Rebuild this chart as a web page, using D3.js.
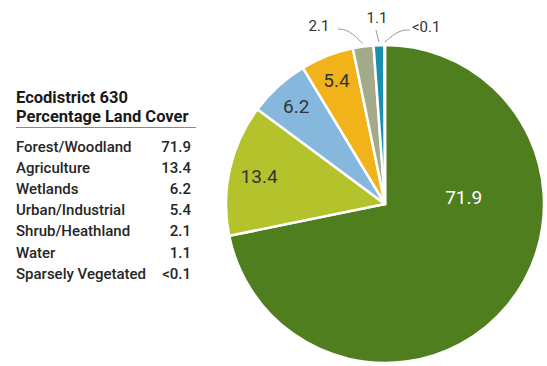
<!DOCTYPE html>
<html>
<head>
<meta charset="utf-8">
<script src="https://cdn.jsdelivr.net/npm/d3@7/dist/d3.min.js"></script>
<style>
  html, body { margin: 0; padding: 0; background: #ffffff; }
  svg { display: block; font-family: Roboto, "Liberation Sans Narrow", sans-serif; }
</style>
</head>
<body>
<svg id="chart" width="547" height="366"></svg>
<script>
// Land cover classes for Ecodistrict 630, clockwise from 12 o'clock
const categories = ["Forest/Woodland", "Agriculture", "Wetlands", "Urban/Industrial",
                    "Shrub/Heathland", "Water", "Sparsely Vegetated"];
const values = [71.9, 13.4, 6.2, 5.4, 2.1, 1.1, 0.05];
const valueLabels = ["71.9", "13.4", "6.2", "5.4", "2.1", "1.1", "<0.1"];
const colors = ["#4f7e1e", "#b4c22b", "#86b8de", "#f2b31a", "#a3aa8a", "#1a8fb0", "#6a8a3a"];

const title = ["Ecodistrict 630", "Percentage Land Cover"];

const svg = d3.select("#chart");
const textColor = "#262626";

// ---- Pie ----
const cx = 385, cy = 204, R = 159;
const pie = d3.pie().sort(null).value(d => d);
const arcs = pie(values);
const arc = d3.arc().innerRadius(0).outerRadius(R);

const g = svg.append("g").attr("transform", `translate(${cx},${cy})`);

g.selectAll("path.slice")
  .data(arcs)
  .join("path")
  .attr("class", "slice")
  .attr("d", arc)
  .attr("fill", (d, i) => colors[i])
  .attr("stroke", "#ffffff")
  .attr("stroke-width", 2.5)
  .attr("stroke-linejoin", "round");

// Inside labels for the larger slices
const inside = [
  { i: 0, r: 79, angle: 85 * Math.PI / 180, fill: "#ffffff" },
  { i: 1, r: 129 },
  { i: 2, r: 132 },
  { i: 3, r: 133 }
];
inside.forEach(p => {
  const a = arcs[p.i];
  const ang = p.angle !== undefined ? p.angle : (a.startAngle + a.endAngle) / 2;
  g.append("text")
    .attr("x", p.r * Math.sin(ang))
    .attr("y", -p.r * Math.cos(ang))
    .attr("dy", "0.36em")
    .attr("text-anchor", "middle")
    .attr("font-size", 19)
    .attr("fill", p.fill || "#333333")
    .text(valueLabels[p.i]);
});

// Outside labels with leader lines for the thin slices
const outside = [
  { i: 4, lx: -66, ly: -173, anchor: "middle", path: [[-47, -175], [-36, -174], [-22, -161]] },
  { i: 5, lx: -8,  ly: -181, anchor: "middle", path: [[-9, -174], [-8, -161]] },
  { i: 6, lx: 27,  ly: -172, anchor: "start",  path: [[25, -174], [14, -174], [1, -162]] }
];
const line = d3.line().curve(d3.curveBasis);
outside.forEach(p => {
  const a = arcs[p.i];
  const mid = (a.startAngle + a.endAngle) / 2;
  // anchor the leader end on the slice rim
  const pts = p.path.slice(0, -1);
  const rr = R + 3;
  pts.push([rr * Math.sin(mid), -rr * Math.cos(mid)]);
  g.append("path")
    .attr("d", pts.length > 2 ? line(pts) : d3.line()(pts))
    .attr("fill", "none")
    .attr("stroke", "#9a9a9a")
    .attr("stroke-width", 1);
  g.append("text")
    .attr("x", p.lx)
    .attr("y", p.ly)
    .attr("text-anchor", p.anchor)
    .attr("font-size", 15)
    .attr("fill", "#333333")
    .text(valueLabels[p.i]);
});

// ---- Legend table ----
const lx = 16, vx = 191;
svg.append("text")
  .attr("x", lx).attr("y", 103)
  .attr("font-size", 16.5).attr("font-weight", 700).attr("fill", "#1a1a1a")
  .text(title[0]);
svg.append("text")
  .attr("x", lx).attr("y", 122)
  .attr("font-size", 16.5).attr("font-weight", 700).attr("fill", "#1a1a1a")
  .text(title[1]);
svg.append("line")
  .attr("x1", lx).attr("x2", 196)
  .attr("y1", 127.5).attr("y2", 127.5)
  .attr("stroke", "#888").attr("stroke-width", 1);

const row = svg.append("g");
categories.forEach((c, i) => {
  const y = 152 + i * 21.1;
  row.append("text")
    .attr("x", lx).attr("y", y)
    .attr("font-size", 15).attr("font-weight", 500).attr("fill", textColor)
    .text(c);
  row.append("text")
    .attr("x", vx).attr("y", y)
    .attr("text-anchor", "end")
    .attr("font-size", 15).attr("font-weight", 500).attr("fill", textColor)
    .text(valueLabels[i]);
});
</script>
</body>
</html>
